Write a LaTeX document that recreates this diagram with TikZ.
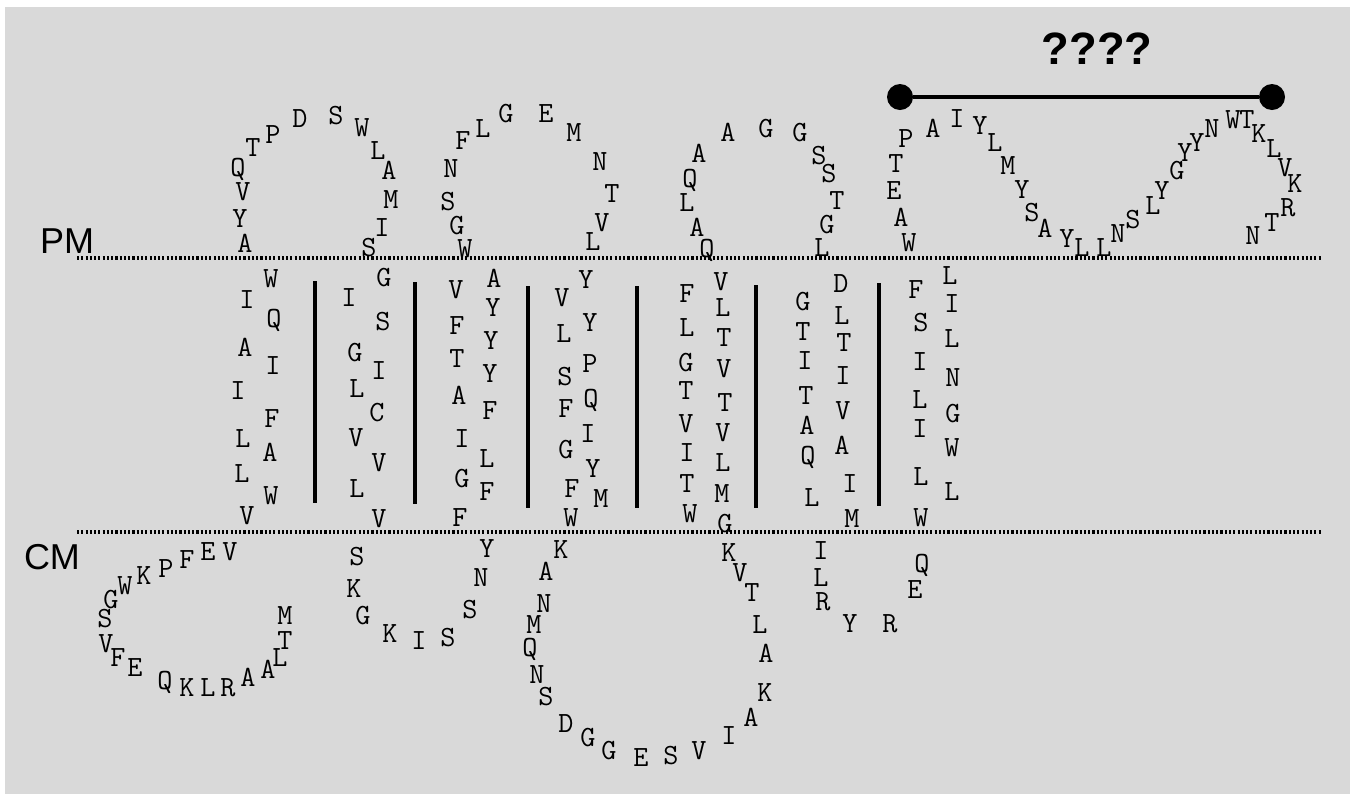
\documentclass[tikz,border=0pt]{standalone}
\usepackage{fontspec}
\newfontfamily\lblfont{Liberation Sans}
\definecolor{bggray}{RGB}{217,217,217}

\begin{document}
\begin{tikzpicture}[x={(0.75pt,0)}, y={(0,-0.75pt)},
    aa/.style={inner sep=0pt, text height=13.5pt, text depth=0pt,
               font=\ttfamily\fontsize{22pt}{22pt}\selectfont},
    mlbl/.style={inner sep=0pt, font=\lblfont\fontsize{27pt}{27pt}\selectfont},
    memb/.style={line width=3pt, dash pattern=on 1.6pt off 1.6pt},
    sep/.style={line width=3pt},
    enddot/.style={circle, fill=black, minimum size=19.5pt, inner sep=0pt}
  ]
    \useasboundingbox (0,0) rectangle (1355,794);
    \fill[bggray] (5,7) rectangle (1350,794);

    % Membranes
    \draw[memb] (77,258) -- (1322,258);
    \draw[memb] (77,532) -- (1322,532);
    \node[mlbl] (pm) at (67,241) {PM};
    \node[mlbl] (cm) at (52,557) {CM};

    % Helix separators
    \draw[sep] (315,281) -- (315,503);
    \draw[sep] (415,282) -- (415,504);
    \draw[sep] (528,286) -- (528,508);
    \draw[sep] (637,286) -- (637,508);
    \draw[sep] (756,285) -- (756,508);
    \draw[sep] (879,283) -- (879,506);

    % Span marker
    \node[mlbl, font=\lblfont\bfseries\fontsize{34pt}{34pt}\selectfont] (span) at (1097,49) {????};
    \node[enddot] (spanl) at (900,97) {};
    \node[enddot] (spanr) at (1272,97) {};
    \draw[line width=3.4pt] (spanl) -- (spanr);

    % Cytoplasmic loop 1
    \foreach \px/\py/\res [count=\i] in {230/551/V, 208/551/E, 187/559/F, 166/568/P,
        144/575/K, 125/585/W, 111/599/G, 105/618/S, 106/643/V, 118/657/F,
        135/667/E, 165/680/Q, 187/687/K, 208/687/L, 228/687/R, 248/677/A,
        268/669/A, 280/657/L, 285/640/T, 285/615/M}
      \node[aa] (cyt1-\i) at (\px,\py) {\res};

    % Helix 1
    \foreach \px/\py/\res [count=\i] in {247/515/V, 242/473/L, 243/438/L, 238/390/I,
        245/347/A, 247/299/I, 271/278/W, 274/318/Q, 273/365/I, 272/418/F,
        270/452/A, 271/495/W}
      \node[aa] (tm1-\i) at (\px,\py) {\res};

    % Extracellular loop 1
    \foreach \px/\py/\res [count=\i] in {245/243/A, 240/218/Y, 243/191/V, 238/167/Q,
        253/147/T, 273/134/P, 300/118/D, 336/115/S, 362/127/W, 378/150/L,
        389/170/A, 391/199/M, 382/227/I, 369/247/S}
      \node[aa] (ext1-\i) at (\px,\py) {\res};

    % Helix 2
    \foreach \px/\py/\res [count=\i] in {349/297/I, 355/352/G, 357/388/L, 356/437/V,
        357/488/L, 384/277/G, 383/321/S, 379/370/I, 377/412/C, 379/462/V,
        379/518/V}
      \node[aa] (tm2-\i) at (\px,\py) {\res};

    % Cytoplasmic loop 2
    \foreach \px/\py/\res [count=\i] in {357/556/S, 354/588/K, 363/615/G, 390/633/K,
        419/640/I, 448/637/S, 470/609/S, 481/577/N, 487/548/Y}
      \node[aa] (cyt2-\i) at (\px,\py) {\res};

    % Helix 3
    \foreach \px/\py/\res [count=\i] in {456/289/V, 457/325/F, 457/358/T, 459/395/A,
        462/438/I, 462/478/G, 460/517/F, 494/278/A, 493/307/Y, 491/340/Y,
        490/373/Y, 490/410/F, 487/458/L, 487/491/F}
      \node[aa] (tm3-\i) at (\px,\py) {\res};

    % Extracellular loop 2
    \foreach \px/\py/\res [count=\i] in {465/248/W, 457/225/G, 448/201/S, 451/168/N,
        463/140/F, 483/128/L, 506/113/G, 546/113/E, 574/132/M, 600/161/N,
        612/193/T, 602/222/V, 593/241/L}
      \node[aa] (ext2-\i) at (\px,\py) {\res};

    % Helix 4
    \foreach \px/\py/\res [count=\i] in {562/297/V, 564/333/L, 565/376/S, 566/408/F,
        566/449/G, 572/488/F, 571/517/W, 586/279/Y, 590/322/Y, 590/363/P,
        591/398/Q, 588/433/I, 593/468/Y, 601/498/M}
      \node[aa] (tm4-\i) at (\px,\py) {\res};

    % Cytoplasmic loop 3
    \foreach \px/\py/\res [count=\i] in {561/549/K, 546/571/A, 544/603/N, 534/624/M,
        530/647/Q, 537/674/N, 546/696/S, 566/723/D, 588/737/G, 609/750/G,
        641/757/E, 671/755/S, 699/750/V, 729/735/I, 751/717/A, 765/692/K,
        766/653/A, 760/624/L, 752/592/T, 740/572/V, 729/552/K}
      \node[aa] (cyt3-\i) at (\px,\py) {\res};

    % Helix 5
    \foreach \px/\py/\res [count=\i] in {687/293/F, 687/327/L, 686/362/G, 686/390/T,
        686/423/V, 687/452/I, 687/483/T, 690/513/W, 721/281/V, 723/307/L,
        724/337/T, 724/368/V, 725/402/T, 723/432/V, 723/462/L, 722/493/M,
        725/523/G}
      \node[aa] (tm5-\i) at (\px,\py) {\res};

    % Extracellular loop 3
    \foreach \px/\py/\res [count=\i] in {707/248/Q, 697/227/A, 687/202/L, 690/178/Q,
        699/153/A, 728/132/A, 766/128/G, 800/132/G, 819/155/S, 829/173/S,
        837/200/T, 827/224/G, 822/247/L}
      \node[aa] (ext3-\i) at (\px,\py) {\res};

    % Helix 6
    \foreach \px/\py/\res [count=\i] in {803/301/G, 803/331/T, 805/360/I, 806/395/T,
        807/425/A, 808/455/Q, 812/497/L, 841/283/D, 842/315/L, 844/342/T,
        843/375/I, 843/410/V, 842/445/A, 850/483/I, 852/518/M}
      \node[aa] (tm6-\i) at (\px,\py) {\res};

    % Cytoplasmic loop 4
    \foreach \px/\py/\res [count=\i] in {821/550/I, 821/577/L, 823/601/R, 850/623/Y,
        890/623/R, 915/589/E, 922/563/Q}
      \node[aa] (cyt4-\i) at (\px,\py) {\res};

    % Helix 7
    \foreach \px/\py/\res [count=\i] in {916/289/F, 921/322/S, 920/361/I, 920/399/L,
        920/428/I, 921/476/L, 921/517/W, 950/275/L, 952/303/I, 952/338/L,
        953/377/N, 953/413/G, 952/447/W, 952/491/L}
      \node[aa] (tm7-\i) at (\px,\py) {\res};

    % Extracellular tail
    \foreach \px/\py/\res [count=\i] in {909/242/W, 901/217/A, 894/190/E, 896/163/T,
        906/138/P, 933/128/A, 957/118/I, 980/125/Y, 995/142/L, 1008/165/M,
        1022/189/Y, 1032/212/S, 1045/228/A, 1067/238/Y, 1082/247/L, 1104/247/L,
        1118/233/N, 1133/219/S, 1153/205/L, 1162/190/Y, 1177/170/G, 1185/152/Y,
        1197/142/Y, 1212/128/N, 1233/119/W, 1247/119/T, 1259/133/K, 1274/148/L,
        1285/167/V, 1295/183/K, 1288/207/R, 1272/222/T, 1253/235/N}
      \node[aa] (tail-\i) at (\px,\py) {\res};
\end{tikzpicture}
\end{document}
